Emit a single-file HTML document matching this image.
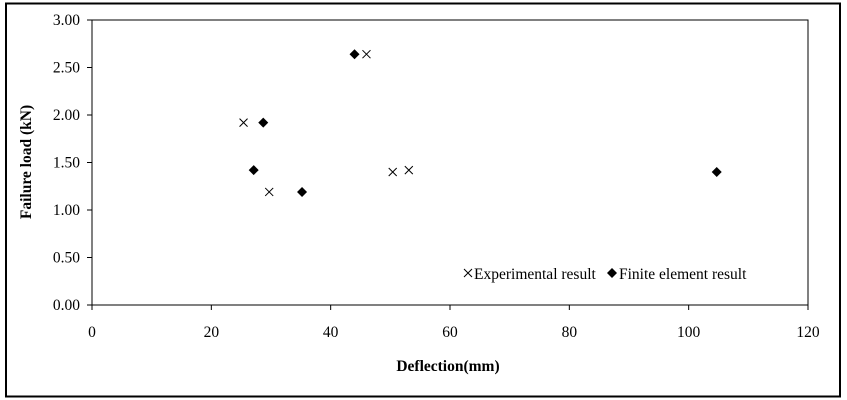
<!DOCTYPE html>
<html><head><meta charset="utf-8"><style>
body{margin:0;background:#fff;}
svg{display:block;font-family:"Liberation Serif",serif;}
</style></head><body>
<svg id="chart" width="847" height="400">
<rect x="6" y="3.5" width="834" height="393" fill="#fff" stroke="#000" stroke-width="2"/>
<rect x="92" y="20" width="716" height="285" fill="none" stroke="#000" stroke-width="1"/>
<g id="axes"></g><g id="marks"></g>
<text x="448" y="371" font-size="15.5" font-weight="bold" text-anchor="middle">Deflection(mm)</text>
<text transform="translate(31,162) rotate(-90)" font-size="15.5" font-weight="bold" text-anchor="middle">Failure load (kN)</text>
<g>
<path d="M464 269 l8 8 M472 269 l-8 8" stroke="#000"/>
<text x="474" y="279" font-size="15.5">Experimental result</text>
<path d="M612 268 l5 5 l-5 5 l-5 -5z" fill="#000"/>
<text x="619" y="279" font-size="15.5">Finite element result</text>
</g>
</svg>
<script>
const xTicks=[0,20,40,60,80,100,120];
const yTicks=[0,0.5,1,1.5,2,2.5,3];
const expX=[25.4,29.7,46.0,50.4,53.1];
const expY=[1.92,1.19,2.64,1.40,1.42];
const feX=[27.1,28.7,35.2,44.0,104.7];
const feY=[1.42,1.92,1.19,2.64,1.40];
const NS="http://www.w3.org/2000/svg";
const sx=v=>92+v/120*716, sy=v=>305-v/3*285;
const axes=document.getElementById('axes'), marks=document.getElementById('marks');
function mk(t,a,p){const e=document.createElementNS(NS,t);for(const k in a)e.setAttribute(k,a[k]);p.appendChild(e);return e;}
xTicks.forEach(v=>{
 mk('line',{x1:sx(v),x2:sx(v),y1:305,y2:310,stroke:'#000'},axes);
 const t=mk('text',{x:sx(v),y:337,'font-size':15.5,'text-anchor':'middle'},axes);t.textContent=v;
 
 
});
yTicks.forEach(v=>{
 mk('line',{x1:87,x2:92,y1:sy(v),y2:sy(v),stroke:'#000'},axes);
 const t=mk('text',{x:80,y:sy(v)+5,'font-size':15.5,'text-anchor':'end'},axes);t.textContent=v.toFixed(2);
 
 
});
expX.forEach((v,i)=>{
 const x=sx(v),y=sy(expY[i]);
 const p=mk('path',{d:`M${x-4} ${y-4}L${x+4} ${y+4}M${x+4} ${y-4}L${x-4} ${y+4}`,stroke:'#000','stroke-width':1},marks);
 
 
});
feX.forEach((v,i)=>{
 const x=sx(v),y=sy(feY[i]);
 const p=mk('path',{d:`M${x} ${y-5}L${x+5} ${y}L${x} ${y+5}L${x-5} ${y}Z`,fill:'#000'},marks);
 
 
});
</script>
</body></html>
